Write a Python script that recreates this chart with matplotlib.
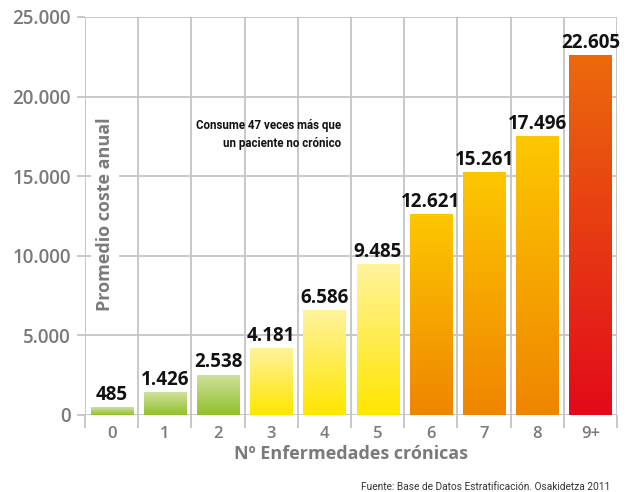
import numpy as np
import matplotlib
matplotlib.use("Agg")
import matplotlib.pyplot as plt
from matplotlib.colors import LinearSegmentedColormap
from matplotlib import font_manager

categories = ["0", "1", "2", "3", "4", "5", "6", "7", "8", "9+"]
values = [485, 1426, 2538, 4181, 6586, 9485, 12621, 15261, 17496, 22605]
value_labels = ["485", "1.426", "2.538", "4.181", "6.586", "9.485", "12.621", "15.261", "17.496", "22.605"]
ytick_vals = [0, 5000, 10000, 15000, 20000, 25000]
ytick_labels = ["0", "5.000", "10.000", "15.000", "20.000", "25.000"]
groups = ["green", "green", "green", "yellow", "yellow", "yellow", "orange", "orange", "orange", "red"]
gradients = {  # (top, bottom)
    "green": ("#cfe19c", "#93c02a"),
    "yellow": ("#fff39c", "#ffe600"),
    "orange": ("#fdc700", "#ef8500"),
    "red": ("#ec6a0c", "#e20a1a"),
}

names = {f.name for f in font_manager.fontManager.ttflist}
main_font = "Open Sans" if "Open Sans" in names else "DejaVu Sans"
narrow = "Roboto" if "Roboto" in names else "DejaVu Sans"
plt.rcParams["font.family"] = [main_font, "DejaVu Sans"]

fig = plt.figure(figsize=(6.29, 4.92), dpi=100)
ax = fig.add_axes([85/629, 77/492, 532/629, 398/492])

grid_c = "#c4c4c4"
x = np.arange(len(categories))
bars = ax.bar(x, values, width=0.79, color="none", zorder=3)
for b, g in zip(bars, groups):
    top, bot = gradients[g]
    cmap = LinearSegmentedColormap.from_list(g, [bot, top])
    grad = np.linspace(0, 1, 256).reshape(-1, 1)
    x0, w, h = b.get_x(), b.get_width(), b.get_height()
    im = ax.imshow(grad, cmap=cmap, origin="lower", aspect="auto",
                   extent=[x0, x0 + w, 0, h], zorder=3, interpolation="bicubic")
    im.set_clip_path(b)

for xi, v, lab in zip(x, values, value_labels):
    ax.text(xi, v + 150, lab, ha="center", va="bottom", fontsize=13.5,
            fontweight="bold", color="#111111", zorder=5)

ax.set_xlim(-0.5, 9.5)
ax.set_ylim(0, 25000)
for s in ax.spines.values():
    s.set_visible(False)

# grid
for yv in ytick_vals:
    ax.axhline(yv, color=grid_c, lw=1.3, zorder=1)
for bx in np.arange(-0.5, 10, 1):
    ax.axvline(bx, color=grid_c, lw=1.3, zorder=1)

ax.set_yticks(ytick_vals)
ax.set_yticklabels(ytick_labels)
ax.set_xticks(x)
ax.set_xticklabels(categories)
ax.set_xticks(np.arange(-0.5, 10, 1), minor=True)
ax.tick_params(axis="y", length=6, width=1.3, color=grid_c, labelsize=13.5,
               labelcolor="#7a7a7a", pad=4)
ax.tick_params(axis="x", which="major", length=0, labelsize=12, labelcolor="#7a7a7a", pad=8)
ax.tick_params(axis="x", which="minor", length=9.5, width=1.3, color=grid_c)
for lab in ax.get_yticklabels() + ax.get_xticklabels():
    lab.set_fontweight("semibold")

ax.set_xlabel("Nº Enfermedades crónicas", fontsize=13, fontweight="bold",
              color="#7a7a7a", labelpad=2)

ax.text(0.0376, 0.505, "Promedio coste anual", transform=ax.transAxes, rotation=90,
        ha="center", va="center", fontsize=13, fontweight="bold", color="#7a7a7a",
        zorder=4, bbox=dict(boxstyle="square,pad=0.3", fc="white", ec="none"))

fig.text(341/629, 1 - 126/492, "Consume 47 veces más que", ha="right", va="center",
         fontsize=8.3, fontweight="bold", family=[narrow, "DejaVu Sans"], color="#111111")
fig.text(341/629, 1 - 143/492, "un paciente no crónico", ha="right", va="center",
         fontsize=8.3, fontweight="bold", family=[narrow, "DejaVu Sans"], color="#111111")
fig.text(610/629, 1 - 487/492, "Fuente: Base de Datos Estratificación. Osakidetza 2011",
         ha="right", va="center", fontsize=7.3, family=[narrow, "DejaVu Sans"], color="#333333")

fig.savefig("out.png", dpi=100)
